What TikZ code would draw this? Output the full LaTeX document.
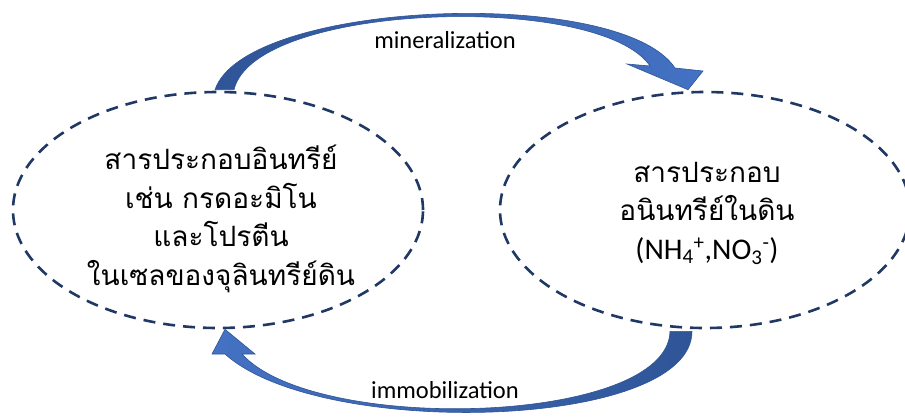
\documentclass[tikz,border=0pt]{standalone}
\usepackage{fontspec}
\setmainfont{Carlito}
\newfontfamily\thaifont[Script=Thai]{Loma}
\usetikzlibrary{shapes.geometric,calc}
\definecolor{navy}{HTML}{203864}
\definecolor{adark}{HTML}{2F5597}
\definecolor{alight}{HTML}{4472C4}
\begin{document}
\begin{tikzpicture}[x=1pt,y=-1pt,
  blob/.style={ellipse,draw=navy,line width=2.6pt,dash pattern=on 12pt off 8pt,minimum width=410pt,minimum height=236pt,inner sep=0pt},
  thaitext/.style={align=center,font=\thaifont\fontsize{28}{38.5}\selectfont,inner sep=0pt},
  lbl/.style={font=\fontsize{24.5}{28}\selectfont,inner sep=0pt},
  barrow/.style={draw=adark,line width=0.6pt,line join=miter}]
\useasboundingbox (0,0) rectangle (905,416);
\clip (0,0) rectangle (905,416);
\fill[white] (0,0) rectangle (905,416);
\node[blob] (org) at (218,210) {};
\node[blob] (inorg) at (705,210) {};
\node[thaitext] (orgtxt) at (221,219) {สารประกอบอินทรีย์\\เช่น กรดอะมิโน\\และโปรตีน\\ในเซลของจุลินทรีย์ดิน};
\node[thaitext] (inorgtxt) at (707,213) {สารประกอบ\\อนินทรีย์ในดิน\\{\rmfamily\fontsize{30}{38}\selectfont (NH\textsubscript{4}\textsuperscript{+},NO\textsubscript{3}\textsuperscript{-})}};
% mineralization arrow
\coordinate (mA) at ($(org.north)+(-3,-1)$);
\coordinate (mG) at ($(org.north)+(16,-1)$);
\coordinate (mTip) at ($(inorg.north)+(-17,-1)$);
\draw[barrow,left color=adark,right color=alight]
  (mA) .. controls (245,0) and (620,-15) .. (675,68) -- (703,71) -- (mTip) -- (627,64) -- (650,66)
  .. controls (600,-8) and (255,2) .. (mG) -- cycle;
% immobilization arrow
\coordinate (iA) at ($(inorg.south)+(-13,2)$);
\coordinate (iG) at ($(inorg.south)+(-35,2)$);
\coordinate (iTip) at ($(org.south)+(7,0)$);
\draw[barrow,left color=alight,right color=adark]
  (iA) .. controls (692,430) and (320,440) .. (225,354) -- (212,354) -- (iTip) -- (255,354) -- (242,354)
  .. controls (315,435) and (668,425) .. (iG) -- cycle;
\node[lbl] (mlab) at (445,40) {mineralization};
\node[lbl] (ilab) at (445,390) {immobilization};
\end{tikzpicture}
\end{document}
